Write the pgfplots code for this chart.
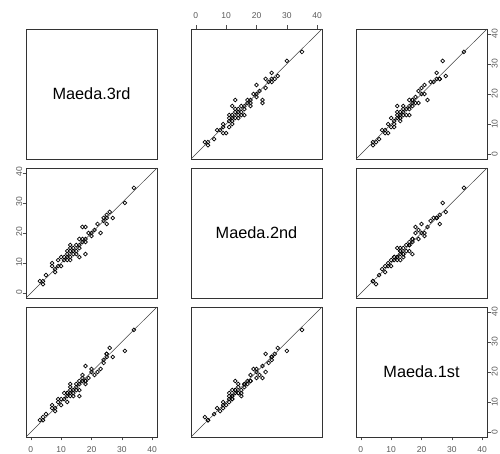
\documentclass[border=0pt]{standalone}
\usepackage{pgfplots}
\pgfplotsset{compat=1.18}
\usepackage{pgfplotstable}
\usepackage{fontspec}
\setmainfont{Liberation Sans}
\pgfplotstableread{
m3 m2 m1
34 35 34
31 30 27
26 27 28
27 25 25
25 26 26
25 25 25
24 25 24
25 23 26
24 24 23
23 20 21
22 23 20
21 21 19
20 20 20
19 20 18
18 22 22
17 22 18
18 18 17
17 18 19
18 17 16
16 18 17
18 13 17
17 17 17
16 16 16
16 12 12
16 15 14
15 16 15
14 14 13
13 16 16
13 15 13
13 14 15
15 14 16
15 13 14
14 15 12
12 13 13
11 12 11
12 12 12
13 11 12
12 11 10
10 12 11
11 11 13
9 11 11
10 9 9
7 10 9
7 9 8
8 7 8
9 9 10
8 8 7
5 6 6
4 4 4
4 3 5
3 4 4
20 19 21
14 13 14
12 14 13
13 12 14
}\data
\pgfplotsset{
  pp/.style={width=131pt,height=130pt,scale only axis,
    xmin=-1.6,xmax=41.6,ymin=-1.6,ymax=41.6,
    xtick=\empty,ytick=\empty,
    axis line style={line width=0.9pt,black!80},
    tick style={black!70,line width=0.5pt},
    major tick length=3.5pt,tick align=outside,
    ticklabel style={font=\fontsize{8.5}{10}\selectfont,text=black!65},
    /pgf/number format/assume math mode=true,
    anchor=north west},
  pts/.style={only marks,mark=o,mark size=1.9pt,mark options={line width=0.7pt,black}},
  xt/.style={xtick={0,10,20,30,40}},
  yt/.style={ytick={0,10,20,30,40}},
}
\newcommand\diag{\addplot[black!75,line width=0.5pt] coordinates {(-1.6,-1.6)(41.6,41.6)};}
\begin{document}
\begin{tikzpicture}
\path[use as bounding box] (0,0) rectangle (500pt,454pt);
% row 1
\begin{axis}[pp,at={(26pt,425pt)}]
\node at (axis cs:20,20) {\fontsize{16.3}{19}\selectfont Maeda.3rd};
\end{axis}
\begin{axis}[pp,at={(191pt,425pt)},xt,xtick pos=right,xticklabel pos=right,xticklabel style={yshift=3pt}]
\diag
\addplot[pts] table[x=m2,y=m3]{\data};
\end{axis}
\begin{axis}[pp,at={(356pt,425pt)},yt,ytick pos=right,yticklabel pos=right,yticklabel style={rotate=90,anchor=north,inner sep=1pt}]
\diag
\addplot[pts] table[x=m1,y=m3]{\data};
\end{axis}
% row 2
\begin{axis}[pp,at={(26pt,286pt)},yt,ytick pos=left,yticklabel pos=left,yticklabel style={rotate=90,anchor=south,inner sep=0pt,xshift=1pt}]
\diag
\addplot[pts] table[x=m3,y=m2]{\data};
\end{axis}
\begin{axis}[pp,at={(191pt,286pt)}]
\node at (axis cs:20,20) {\fontsize{16.3}{19}\selectfont Maeda.2nd};
\end{axis}
\begin{axis}[pp,at={(356pt,286pt)}]
\diag
\addplot[pts] table[x=m1,y=m2]{\data};
\end{axis}
% row 3
\begin{axis}[pp,at={(26pt,147pt)},xt,xtick pos=left,xticklabel pos=left,xticklabel style={yshift=-3pt}]
\diag
\addplot[pts] table[x=m3,y=m1]{\data};
\end{axis}
\begin{axis}[pp,at={(191pt,147pt)}]
\diag
\addplot[pts] table[x=m2,y=m1]{\data};
\end{axis}
\begin{axis}[pp,at={(356pt,147pt)},xt,xtick pos=left,xticklabel pos=left,xticklabel style={yshift=-3pt},yt,ytick pos=right,yticklabel pos=right,yticklabel style={rotate=90,anchor=north,inner sep=1pt}]
\node at (axis cs:20,20) {\fontsize{16.3}{19}\selectfont Maeda.1st};
\end{axis}
\end{tikzpicture}
\end{document}
